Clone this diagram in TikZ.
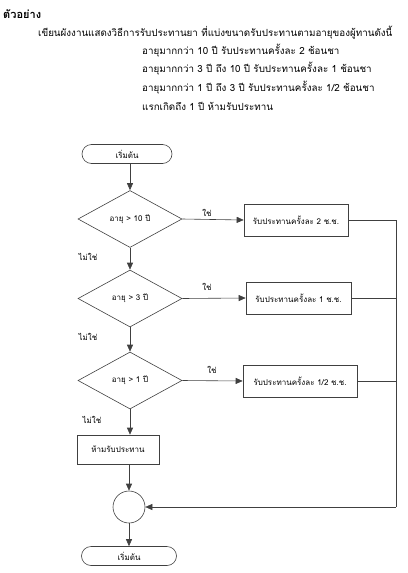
\documentclass[tikz,border=0pt]{standalone}
\usepackage{fontspec}
\newfontfamily\thai[Script=Thai]{Loma}
\usetikzlibrary{shapes.geometric,shapes.misc,arrows.meta}
\begin{document}
\begin{tikzpicture}[x=1pt,y=-1pt,
  every node/.style={font=\thai\fontsize{8}{9}\selectfont, inner sep=0pt},
  ln/.style={draw=black!75, line width=0.6pt},
  arr/.style={ln, -{Triangle[length=7pt,width=6pt]}},
  term/.style={ln, rounded rectangle, minimum width=90pt, minimum height=19pt},
  dec/.style={ln, diamond, aspect=1.8, minimum width=104pt, minimum height=57pt},
  proc/.style={ln, rectangle, minimum height=32pt, align=left, font=\thai\fontsize{8}{9}\selectfont},
  lab/.style={font=\thai\fontsize{8}{9}\selectfont},
  head/.style={anchor=west, font=\thai\fontsize{9.8}{11}\selectfont}
]
\useasboundingbox (0,0) rectangle (407,573);
% heading text
\node[head, font=\thai\bfseries\fontsize{11}{12}\selectfont] (t0) at (3,14) {ตัวอย่าง};
\node[head] (t1) at (38,33) {เขียนผังงานแสดงวิธีการรับประทานยา ที่แบ่งขนาดรับประทานตามอายุของผู้ทานดังนี้};
\node[head] (t2) at (142,51) {อายุมากกว่า 10 ปี รับประทานครั้งละ 2 ช้อนชา};
\node[head] (t3) at (142,69) {อายุมากกว่า 3 ปี ถึง 10 ปี รับประทานครั้งละ 1 ช้อนชา};
\node[head] (t4) at (142,88) {อายุมากกว่า 1 ปี ถึง 3 ปี รับประทานครั้งละ 1/2 ช้อนชา};
\node[head] (t5) at (142,106) {แรกเกิดถึง 1 ปี ห้ามรับประทาน};

% flowchart
\node[term] (start) at (127,154) {เริ่มต้น};
\node[dec] (d1) at (130,219) {อายุ > 10 ปี};
\node[dec] (d2) at (130,298.5) {อายุ > 3 ปี};
\node[dec] (d3) at (130,380.5) {อายุ > 1 ปี};
\node[proc, minimum width=104pt] (b1) at (296,220) {รับประทานครั้งละ 2 ช.ช.};
\node[proc, minimum width=105pt] (b2) at (298.5,298) {รับประทานครั้งละ 1 ช.ช.};
\node[proc, minimum width=114pt] (b3) at (300,381) {รับประทานครั้งละ 1/2 ช.ช.};
\node[proc, minimum width=82pt, minimum height=29pt] (b4) at (118,449.5) {ห้ามรับประทาน};
\node[ln, circle, minimum size=32pt] (c) at (129,507) {};
\node[term, minimum width=95pt] (end) at (129,556) {เริ่มต้น};
\coordinate (R) at (396,507);

\draw[arr] (start.south -| d1.north) -- (d1.north);
\draw[arr] (d1.east) -- (b1.west);
\draw[arr] (d1.south) -- (d2.north);
\draw[arr] (d2.east) -- (b2.west);
\draw[arr] (d2.south) -- (d3.north);
\draw[arr] (d3.east) -- (b3.west);
\draw[arr] (d3.south) -- (d3.south |- b4.north);
\draw[arr] (b4.south -| c.north) -- (c.north);
\draw[arr] (c.south) -- (end.north -| c.south);
\draw[ln] (b1.east) -- (b1.east -| R) -- (R);
\draw[ln] (b2.east) -- (b2.east -| R);
\draw[ln] (b3.east) -- (b3.east -| R);
\draw[arr] (R) -- (c.east);

\node[lab] (y1) at (207,213) {ใช่};
\node[lab] (y2) at (207,287) {ใช่};
\node[lab] (y3) at (212,370) {ใช่};
\node[lab] (n1) at (88,257) {ไม่ใช่};
\node[lab] (n2) at (88,337) {ไม่ใช่};
\node[lab] (n3) at (92,420) {ไม่ใช่};
\end{tikzpicture}
\end{document}
